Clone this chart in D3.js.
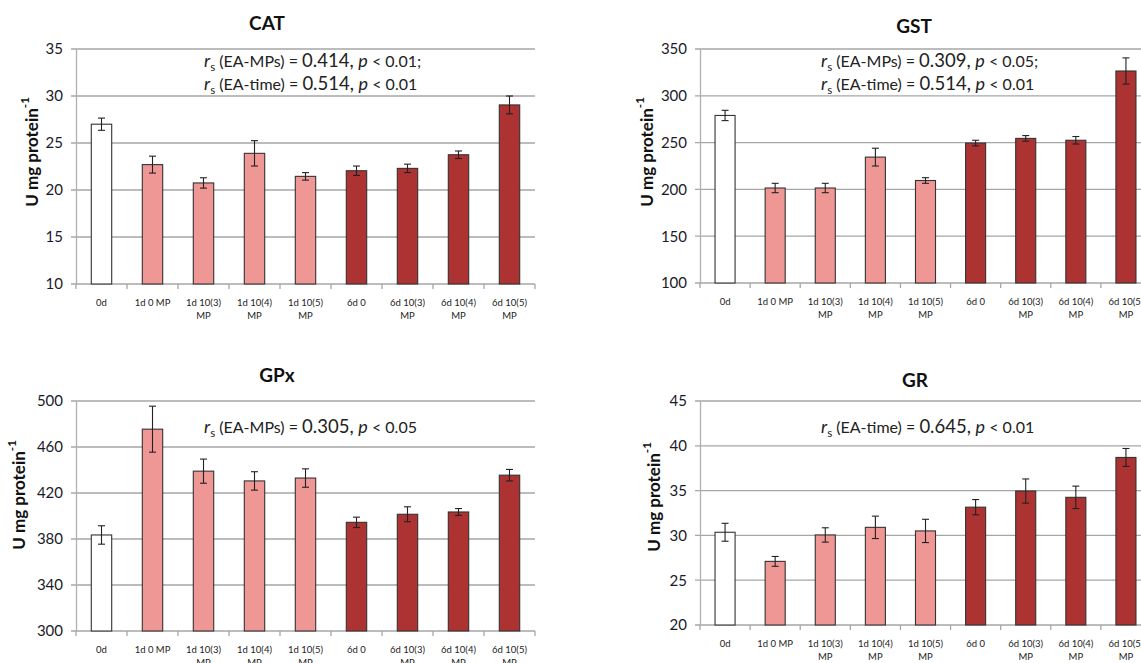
<!DOCTYPE html>
<html>
<head>
<meta charset="utf-8">
<script src="https://cdn.jsdelivr.net/npm/d3@7"></script>
<style>
  body { margin: 0; background: #fff; }
  text { font-family: Lato, "Open Sans", sans-serif; }
</style>
</head>
<body>
<script>
// Datos de los cuatro paneles
const categories = ["0d", "1d 0 MP", "1d 10(3)\nMP", "1d 10(4)\nMP", "1d 10(5)\nMP",
  "6d 0", "6d 10(3)\nMP", "6d 10(4)\nMP", "6d 10(5)\nMP"];
const groups = ["ctrl", "1d", "1d", "1d", "1d", "6d", "6d", "6d", "6d"];

const catValues = [27.0, 22.7, 20.75, 23.9, 21.45, 22.05, 22.3, 23.75, 29.05];
const catErrors = [0.65, 0.9, 0.55, 1.35, 0.4, 0.5, 0.45, 0.4, 0.95];
const catTicks = [10, 15, 20, 25, 30, 35];

const gstValues = [279, 201.5, 201.5, 234.5, 209.5, 249.5, 254.5, 252.5, 326.5];
const gstErrors = [5.5, 5, 5, 9.5, 3, 3, 3, 4, 14];
const gstTicks = [100, 150, 200, 250, 300, 350];

const gpxValues = [383.5, 475.5, 439, 430.5, 433, 394.5, 401.5, 403.5, 435.5];
const gpxErrors = [8, 20, 10.5, 8, 8, 4.5, 6.5, 3, 5];
const gpxTicks = [300, 340, 380, 420, 460, 500];

const grValues = [30.35, 27.1, 30.05, 30.9, 30.5, 33.15, 34.95, 34.25, 38.7];
const grErrors = [1.0, 0.55, 0.8, 1.25, 1.3, 0.85, 1.35, 1.25, 1.0];
const grTicks = [20, 25, 30, 35, 40, 45];

const colores = { ctrl: "#ffffff", "1d": "#ef9795", "6d": "#ad3232" };

const WIDTH = 1141;
const HEIGHT = 663;

const svg = d3.select("body")
  .append("svg")
  .attr("width", WIDTH)
  .attr("height", HEIGHT);

// Posición de cada panel
const paneles = [
  { titulo: "CAT", values: catValues, errors: catErrors, ticks: catTicks,
    x0: 76, x1: 535, yTop: 49, yBot: 284, tituloX: 267, tituloY: 30,
    labelX: 31, labelY: 152, annX: 204, annY: [67, 90],
    ann: [["EA-MPs", "0.414", "0.01;"], ["EA-time", "0.514", "0.01"]] },
  { titulo: "GST", values: gstValues, errors: gstErrors, ticks: gstTicks,
    x0: 700, x1: 1151, yTop: 49, yBot: 283, tituloX: 914, tituloY: 33,
    labelX: 646, labelY: 152, annX: 821, annY: [67, 90],
    ann: [["EA-MPs", "0.309", "0.05;"], ["EA-time", "0.514", "0.01"]] },
  { titulo: "GPx", values: gpxValues, errors: gpxErrors, ticks: gpxTicks,
    x0: 76, x1: 535, yTop: 401, yBot: 631, tituloX: 277, tituloY: 382,
    labelX: 18, labelY: 495, annX: 204, annY: [433],
    ann: [["EA-MPs", "0.305", "0.05"]] },
  { titulo: "GR", values: grValues, errors: grErrors, ticks: grTicks,
    x0: 700, x1: 1151, yTop: 401, yBot: 625, tituloX: 915, tituloY: 387,
    labelX: 653, labelY: 497, annX: 821, annY: [433],
    ann: [["EA-time", "0.645", "0.01"]] },
];

paneles.forEach(p => {
  const g = svg.append("g");

  const escalaY = d3.scaleLinear()
    .domain(d3.extent(p.ticks))
    .range([p.yBot, p.yTop]);

  const escalaX = d3.scaleBand()
    .domain(categories)
    .range([p.x0, p.x1])
    .paddingInner(0.6)
    .paddingOuter(0.3);

  // Líneas de grilla
  g.selectAll(".grid")
    .data(p.ticks)
    .join("line")
    .attr("x1", p.x0 - 5)
    .attr("x2", p.x1)
    .attr("y1", d => escalaY(d))
    .attr("y2", d => escalaY(d))
    .attr("stroke", "#a6a6a6")
    .attr("stroke-width", 1.3);

  // Eje Y
  const ejeY = d3.axisLeft(escalaY)
    .tickValues(p.ticks)
    .tickSize(0)
    .tickPadding(13);
  const contEjeY = g.append("g")
    .attr("transform", `translate(${p.x0}, 0)`)
    .call(ejeY);
  contEjeY.select(".domain").attr("stroke", "#b0b0b0").attr("stroke-width", 1.3);
  contEjeY.selectAll("text")
    .attr("font-size", 15)
    .attr("fill", "#1a1a2a")
    .style("font-family", "Lato, sans-serif");

  // Eje X con marcas entre categorías
  const bordes = d3.range(categories.length + 1).map(i => p.x0 + i * escalaX.step());
  g.selectAll(".tickx")
    .data(bordes)
    .join("line")
    .attr("x1", d => d)
    .attr("x2", d => d)
    .attr("y1", p.yBot)
    .attr("y2", p.yBot + 5)
    .attr("stroke", "#a6a6a6")
    .attr("stroke-width", 1.3);

  const etiquetas = g.selectAll(".etq")
    .data(categories)
    .join("text")
    .attr("text-anchor", "middle")
    .attr("font-size", 9.5)
    .attr("fill", "#222");
  etiquetas.each(function (d) {
    const lineas = d.split("\n");
    d3.select(this).selectAll("tspan")
      .data(lineas)
      .join("tspan")
      .attr("x", escalaX(d) + escalaX.bandwidth() / 2)
      .attr("y", (l, i) => p.yBot + 22 + i * 12.5)
      .text(l => l);
  });

  // Barras
  const datos = categories.map((c, i) => ({ c, v: p.values[i], e: p.errors[i], g: groups[i] }));
  g.selectAll(".bar")
    .data(datos)
    .join("rect")
    .attr("x", d => escalaX(d.c))
    .attr("width", escalaX.bandwidth())
    .attr("y", d => escalaY(d.v))
    .attr("height", d => p.yBot - escalaY(d.v))
    .attr("fill", d => colores[d.g])
    .attr("stroke", "#333")
    .attr("stroke-width", 1.1);

  // Barras de error
  const err = g.selectAll(".err")
    .data(datos)
    .join("g")
    .attr("stroke", "#222")
    .attr("stroke-width", 1.1);
  err.append("line")
    .attr("x1", d => escalaX(d.c) + escalaX.bandwidth() / 2)
    .attr("x2", d => escalaX(d.c) + escalaX.bandwidth() / 2)
    .attr("y1", d => escalaY(d.v + d.e))
    .attr("y2", d => escalaY(d.v - d.e));
  [1, -1].forEach(s => {
    err.append("line")
      .attr("x1", d => escalaX(d.c) + escalaX.bandwidth() / 2 - 3.5)
      .attr("x2", d => escalaX(d.c) + escalaX.bandwidth() / 2 + 3.5)
      .attr("y1", d => escalaY(d.v + s * d.e))
      .attr("y2", d => escalaY(d.v + s * d.e));
  });

  // Título
  g.append("text")
    .attr("x", p.tituloX)
    .attr("y", p.tituloY)
    .attr("text-anchor", "middle")
    .attr("font-size", 19)
    .attr("font-weight", "bold")
    .attr("fill", "#111")
    .text(p.titulo);

  // Título del eje Y
  const etY = g.append("text")
    .attr("transform", `translate(${p.labelX}, ${p.labelY}) rotate(-90)`)
    .attr("text-anchor", "middle")
    .attr("dominant-baseline", "central")
    .attr("font-size", 17)
    .attr("font-weight", "bold")
    .attr("fill", "#111");
  etY.append("tspan").text("U mg protein");
  etY.append("tspan").attr("font-size", 11.5).attr("dy", -7).text("-1");

  // Anotaciones de correlación
  p.ann.forEach((a, i) => {
    const t = g.append("text")
      .attr("x", p.annX)
      .attr("y", p.annY[i])
      .attr("font-size", 16)
      .attr("fill", "#222");
    t.append("tspan").attr("font-style", "italic").attr("font-size", 18).text("r");
    t.append("tspan").attr("font-size", 11.5).attr("dy", 4).text("s");
    t.append("tspan").attr("dy", -4).text(` (${a[0]}) = `);
    t.append("tspan").attr("font-size", 18.5).text(`${a[1]}, `);
    t.append("tspan").attr("font-style", "italic").attr("font-size", 18).text("p");
    t.append("tspan").text(` < ${a[2]}`);
  });
});
</script>
</body>
</html>
